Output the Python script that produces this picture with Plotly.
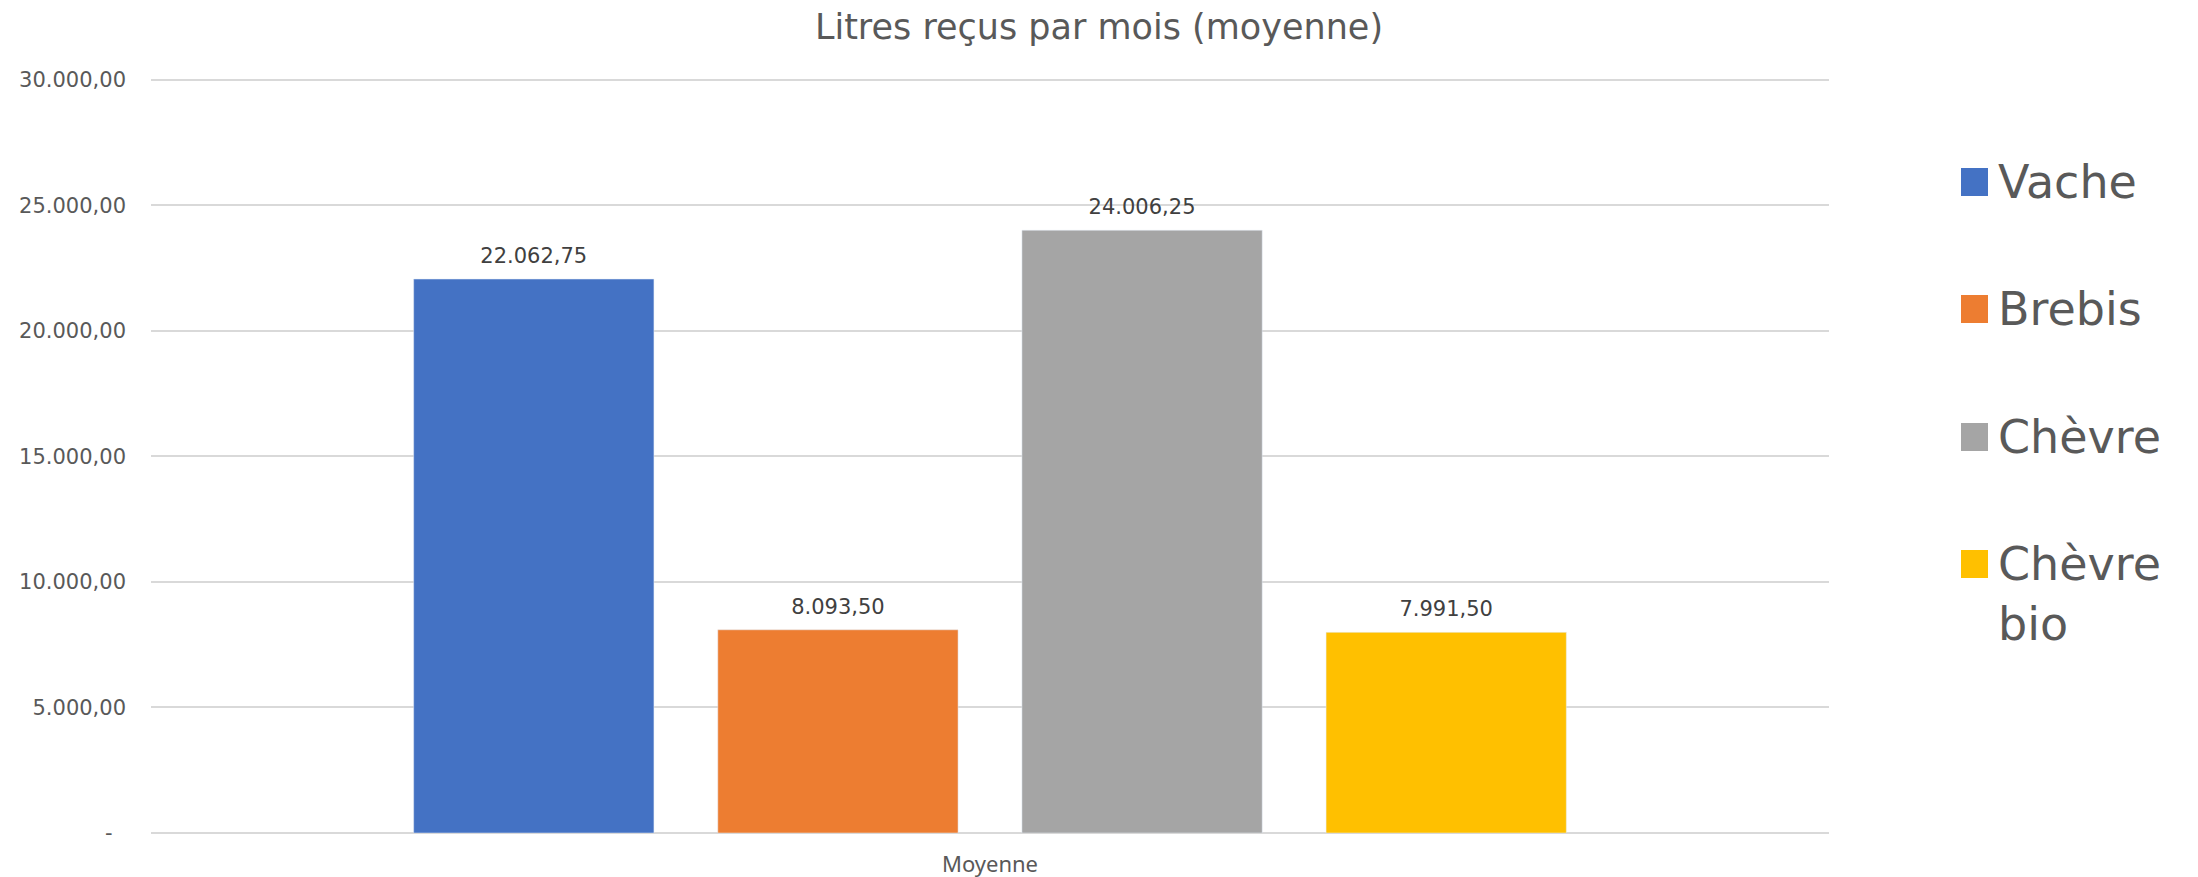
import plotly.graph_objects as go

# ---- data ----
chart_title = "Litres reçus par mois (moyenne)"
category = ["Moyenne"]
series_names = ["Vache", "Brebis", "Chèvre", "Chèvre bio"]
series_values = [22062.75, 8093.50, 24006.25, 7991.50]
series_colors = ["#4472C4", "#ED7D31", "#A5A5A5", "#FFC000"]
tick_values = [0, 5000, 10000, 15000, 20000, 25000, 30000]


def fr(v):
    s = f"{v:,.2f}"
    return s.replace(",", "X").replace(".", ",").replace("X", ".")


tick_text = ["-\u00a0\u00a0" if v == 0 else fr(v) for v in tick_values]

# ---- layout geometry (pixels) ----
W, H = 2198, 877
ML, MR, MT, MB = 151, 369, 76, 44
PW, PH = W - ML - MR, H - MT - MB
YMAX = 30150
BARGAP = 0.275


def px_x(px):
    return (px - ML) / PW


def px_y(py):
    return (H - MB - py) / PH


fig = go.Figure()
for i, (name, val, col) in enumerate(zip(series_names, series_values, series_colors)):
    fig.add_trace(go.Bar(
        x=category, y=[val], name=name, marker_color=col,
        offsetgroup=str(i), showlegend=False, hoverinfo="skip",
    ))
# data labels, aligned on the grouped bars
for i, (name, val) in enumerate(zip(series_names, series_values)):
    fig.add_trace(go.Scatter(
        x=category, y=[val], mode="markers+text", text=[fr(val)],
        textposition="top center", offsetgroup=str(i),
        marker=dict(size=16, opacity=0), hoverinfo="skip",
        textfont=dict(family="DejaVu Sans", size=21, color="#404040"),
        cliponaxis=False, showlegend=False,
    ))

# manual legend (large squares and text like the reference)
legend_centers = [182, 309, 437, 564]
shapes = []
annotations = []
for name, col, cy in zip(series_names, series_colors, legend_centers):
    shapes.append(dict(type="rect", xref="paper", yref="paper",
                       x0=px_x(1961), x1=px_x(1988),
                       y0=px_y(cy + 14), y1=px_y(cy - 14),
                       fillcolor=col, line=dict(width=0)))
    words = name.split(" ")
    label = "<br>".join(words)
    ty = cy + (len(words) - 1) * 59 / 2
    annotations.append(dict(text=label, xref="paper", yref="paper",
                            x=px_x(1996), y=px_y(ty), xanchor="left",
                            yanchor="middle", showarrow=False, align="left",
                            font=dict(family="DejaVu Sans", size=46,
                                      color="#595959")))

fig.update_layout(
    width=W, height=H,
    margin=dict(l=ML, r=MR, t=MT, b=MB, pad=0),
    paper_bgcolor="white", plot_bgcolor="white",
    separators=",.",
    barmode="group", bargap=BARGAP, bargroupgap=0.21,
    scattermode="group", scattergap=BARGAP,
    title=dict(text=chart_title, x=0.5, xref="container", xanchor="center",
               y=0.970, yref="container", yanchor="middle",
               font=dict(family="DejaVu Sans", size=35, color="#595959")),
    shapes=shapes, annotations=annotations,
    showlegend=False,
)
fig.update_yaxes(range=[0, YMAX], tickvals=tick_values, ticktext=tick_text,
                 automargin=False,
                 showgrid=True, gridcolor="#D9D9D9", gridwidth=1.5,
                 zeroline=True, zerolinecolor="#D9D9D9", zerolinewidth=1.5,
                 showline=False, ticks="", ticklabelstandoff=24,
                 tickfont=dict(family="DejaVu Sans", size=21, color="#595959"))
fig.update_xaxes(showgrid=False, showline=False, zeroline=False, ticks="",
                 automargin=False, ticklabelstandoff=16,
                 tickfont=dict(family="Noto Sans", size=22, color="#595959"))

fig.write_html("out.html", config={"displayModeBar": False},
               post_script="document.body.style.margin='0px';")
